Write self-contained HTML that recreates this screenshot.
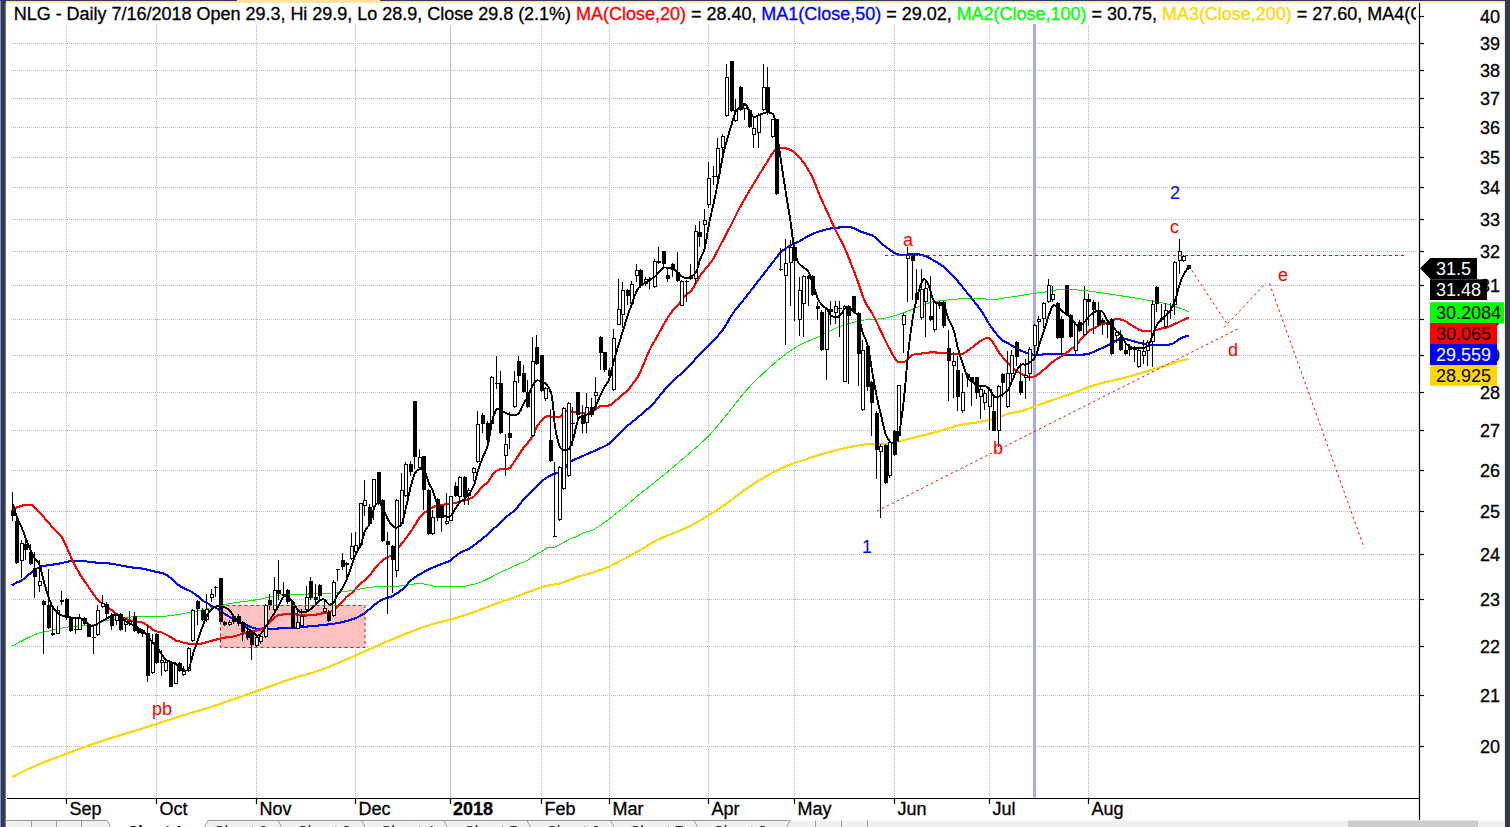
<!DOCTYPE html>
<html><head><meta charset="utf-8"><title>NLG - Daily</title><style>html,body{margin:0;padding:0;background:#fff;overflow:hidden}body{width:1510px;height:827px;position:relative;font-family:"Liberation Sans",sans-serif}</style></head><body>
<svg width="1510" height="827" viewBox="0 0 1510 827" style="position:absolute;left:0;top:0;font-family:'Liberation Sans',sans-serif">
<rect x="0" y="0" width="1510" height="827" fill="#fff"/>
<g stroke="#b8b8b8" stroke-width="1" stroke-dasharray="1,1" fill="none" shape-rendering="crispEdges">
<path d="M11 746.5H1419.5"/>
<path d="M11 695.5H1419.5"/>
<path d="M11 646.5H1419.5"/>
<path d="M11 599.5H1419.5"/>
<path d="M11 554.5H1419.5"/>
<path d="M11 511.5H1419.5"/>
<path d="M11 470.5H1419.5"/>
<path d="M11 430.5H1419.5"/>
<path d="M11 392.5H1419.5"/>
<path d="M11 355.5H1419.5"/>
<path d="M11 319.5H1419.5"/>
<path d="M11 285.5H1419.5"/>
<path d="M11 251.5H1419.5"/>
<path d="M11 219.5H1419.5"/>
<path d="M11 187.5H1419.5"/>
<path d="M11 157.5H1419.5"/>
<path d="M11 127.5H1419.5"/>
<path d="M11 98.5H1419.5"/>
<path d="M11 70.5H1419.5"/>
<path d="M11 43.5H1419.5"/>
<path d="M1415.5 16.5H1419.5M11 16.5h1"/>
<path d="M66.5 25V798.5"/>
<path d="M156.5 25V798.5"/>
<path d="M256.5 25V798.5"/>
<path d="M355.5 25V798.5"/>
<path d="M541.5 25V798.5"/>
<path d="M609.5 25V798.5"/>
<path d="M708.5 25V798.5"/>
<path d="M794.5 25V798.5"/>
<path d="M894.5 25V798.5"/>
<path d="M989.5 25V798.5"/>
<path d="M1088.5 25V798.5"/>
</g>
<path d="M450.5 25V798.5" stroke="#c0c0c0" stroke-width="1" shape-rendering="crispEdges"/>
<defs><clipPath id="pc"><rect x="7" y="22" width="1412" height="775.5"/></clipPath></defs>
<g clip-path="url(#pc)">
<rect x="220.5" y="605.5" width="144.5" height="42" fill="#ffc0c0"/>
<rect x="1033" y="24" width="3" height="775" fill="#a8a8fa"/>
<path d="M11.6 646.2C13.3 645.3 18.6 642.5 21.8 640.9C25.0 639.3 27.8 637.7 30.8 636.4C33.8 635.1 36.7 633.8 39.6 632.9C42.5 632.0 45.4 631.8 48.4 631.1C51.4 630.4 54.8 629.6 57.9 628.9C61.0 628.2 64.1 627.5 67.0 627.1C69.9 626.7 72.6 626.6 75.5 626.3C78.4 626.0 81.5 625.4 84.5 625.2C87.5 625.0 91.3 625.2 93.6 624.9C95.9 624.6 96.5 624.2 98.1 623.6C99.6 623.0 101.4 622.1 102.9 621.5C104.5 620.9 105.2 620.7 107.4 620.2C109.7 619.8 113.4 619.2 116.4 618.8C119.4 618.3 122.4 617.9 125.5 617.5C128.6 617.1 131.8 616.9 134.8 616.7C137.8 616.5 140.3 616.5 143.3 616.4C146.3 616.3 149.6 616.4 152.6 616.4C155.6 616.4 158.5 616.5 161.6 616.4C164.7 616.3 168.2 616.0 171.2 615.6C174.2 615.2 176.8 614.8 179.7 614.3C182.6 613.8 185.7 613.0 188.8 612.4C191.9 611.8 195.7 611.3 198.1 610.9C200.5 610.5 201.6 610.4 203.1 610.1C204.6 609.8 204.8 609.5 207.0 608.9C209.2 608.2 213.3 607.0 216.3 606.2C219.3 605.5 222.1 605.0 225.1 604.4C228.1 603.8 231.1 603.2 234.1 602.8C237.1 602.3 240.1 602.1 243.1 601.7C246.1 601.3 248.9 600.9 251.9 600.4C254.9 599.9 258.0 599.6 261.0 599.0C264.0 598.4 267.0 597.5 270.0 596.9C273.0 596.2 276.0 595.5 279.0 595.1C282.0 594.7 284.3 594.4 288.1 594.3C291.9 594.2 297.3 594.4 301.9 594.3C306.5 594.2 311.0 593.8 315.5 593.7C320.0 593.6 325.2 593.7 329.0 593.5C332.8 593.3 335.1 592.8 338.1 592.4C341.1 592.0 344.2 591.5 347.1 591.1C350.0 590.7 352.6 590.2 355.6 589.7C358.6 589.2 362.1 588.6 365.2 588.1C368.3 587.6 371.3 587.1 374.3 586.8C377.3 586.5 380.2 586.4 383.3 586.3C386.4 586.2 390.0 586.4 393.1 586.3C396.2 586.2 397.8 586.2 401.9 585.7C406.0 585.2 413.9 583.8 417.9 583.6C421.9 583.4 422.8 583.9 425.9 584.4C429.0 584.9 432.5 586.1 436.5 586.5C440.5 586.9 444.9 586.6 449.8 586.5C454.7 586.4 460.4 586.8 465.7 586.0C471.0 585.2 476.4 583.8 481.7 581.7C487.0 579.7 492.4 576.3 497.7 573.7C503.0 571.1 508.5 568.6 513.6 566.3C518.8 564.0 525.9 561.2 528.6 559.9C531.3 558.6 528.2 559.3 529.6 558.3C531.0 557.3 534.5 555.6 537.1 554.1C539.8 552.6 544.0 550.3 545.5 549.3C547.0 548.3 544.9 548.4 546.2 548.0C547.5 547.6 552.0 547.3 553.5 547.1C555.0 546.9 553.9 547.4 555.2 546.9C556.5 546.4 560.0 544.7 561.5 543.9C563.0 543.1 562.3 543.1 564.3 542.1C566.3 541.1 571.1 538.5 573.3 537.6C575.5 536.7 575.8 537.3 577.4 536.5C579.0 535.7 580.4 533.9 583.1 532.8C585.8 531.7 589.3 531.9 593.4 529.8C597.5 527.6 602.8 523.6 607.9 519.9C613.0 516.2 618.5 511.7 623.8 507.4C629.1 503.1 634.9 498.1 639.8 494.1C644.7 490.1 648.7 487.0 653.1 483.5C657.5 480.0 661.1 477.3 666.4 472.9C671.7 468.5 678.4 462.7 685.0 456.9C691.6 451.1 699.6 444.9 706.3 438.3C712.9 431.7 718.2 425.0 724.9 417.0C731.5 409.0 739.6 397.9 746.2 390.4C752.9 382.9 758.6 377.6 764.8 371.8C771.0 366.1 777.6 360.3 783.4 355.9C789.2 351.5 793.2 348.5 799.4 345.2C805.6 341.9 814.0 339.0 820.6 335.9C827.2 332.8 833.1 329.0 839.3 326.6C845.5 324.2 854.4 322.3 857.9 321.3C861.4 320.3 856.8 320.8 860.0 320.4C863.2 320.0 872.9 319.5 877.3 319.1C881.7 318.7 882.4 318.8 886.6 317.8C890.8 316.8 897.7 314.8 902.6 313.1C907.5 311.4 912.4 309.2 915.9 307.8C919.4 306.4 920.7 305.6 923.8 304.5C926.9 303.4 931.0 302.2 934.5 301.5C938.0 300.8 940.7 300.6 945.1 300.2C949.5 299.8 955.8 299.1 961.1 298.8C966.4 298.5 972.6 298.1 977.0 298.2C981.4 298.2 984.2 299.0 987.7 299.1C991.2 299.2 995.2 299.4 998.3 299.1C1001.4 298.9 1002.8 298.2 1006.3 297.6C1009.8 297.1 1015.2 296.5 1019.6 295.8C1024.0 295.1 1028.5 294.3 1032.9 293.6C1037.3 292.9 1041.7 292.5 1046.2 291.8C1050.7 291.1 1057.3 289.6 1060.0 289.2C1062.7 288.8 1059.7 289.2 1062.3 289.3C1064.9 289.4 1071.1 289.5 1075.6 289.8C1080.1 290.1 1084.5 290.6 1089.1 291.1C1093.7 291.6 1098.4 292.3 1103.0 293.0C1107.6 293.7 1112.0 294.4 1116.5 295.1C1121.0 295.8 1125.5 296.4 1130.1 297.2C1134.7 297.9 1139.4 298.8 1143.9 299.6C1148.4 300.4 1153.5 301.1 1157.2 301.8C1160.9 302.5 1163.3 303.1 1166.3 303.9C1169.3 304.7 1172.1 305.5 1175.1 306.5C1178.1 307.5 1181.8 308.8 1184.1 309.7C1186.3 310.6 1187.8 311.5 1188.6 311.9" fill="none" stroke="#00f000" stroke-width="1" shape-rendering="crispEdges"/>
<path d="M12.5 776.9C14.8 775.7 21.6 772.1 26.6 769.7C31.6 767.4 36.0 765.5 42.6 762.8C49.2 760.1 58.5 756.7 66.5 753.7C74.5 750.7 82.4 747.7 90.4 744.9C98.4 742.1 106.4 739.5 114.4 737.0C122.4 734.5 130.8 732.1 138.3 729.8C145.8 727.4 151.6 725.5 159.6 722.9C167.6 720.3 177.3 717.1 186.2 714.4C195.1 711.6 203.9 709.3 212.8 706.4C221.7 703.5 230.5 700.2 239.4 697.1C248.3 694.0 257.1 690.9 266.0 687.8C274.9 684.7 283.8 681.4 292.6 678.5C301.5 675.6 310.2 673.6 319.1 670.5C328.0 667.4 336.8 663.6 345.7 659.8C354.6 656.0 362.9 652.0 372.3 647.9C381.7 643.8 394.3 638.5 401.9 635.4C409.5 632.2 412.6 631.0 417.9 629.0C423.2 627.0 428.5 625.2 433.8 623.7C439.1 622.2 444.5 621.2 449.8 619.7C455.1 618.2 460.4 616.7 465.7 614.9C471.0 613.1 476.4 611.1 481.7 609.1C487.0 607.1 492.4 604.9 497.7 603.0C503.0 601.1 508.3 599.6 513.6 597.7C518.9 595.8 524.3 593.4 529.6 591.5C534.9 589.6 540.2 587.6 545.5 586.2C550.8 584.8 556.2 584.5 561.5 583.0C566.8 581.5 572.1 578.7 577.4 576.9C582.7 575.1 588.1 574.2 593.4 572.4C598.7 570.6 604.1 568.6 609.4 566.3C614.7 563.9 620.0 561.1 625.3 558.3C630.6 555.5 636.0 552.4 641.3 549.3C646.6 546.2 651.9 542.6 657.2 539.9C662.5 537.2 667.9 535.5 673.2 533.3C678.5 531.1 684.5 528.8 689.1 526.6C693.7 524.4 695.0 523.5 701.0 519.9C707.0 516.3 717.4 510.0 724.9 504.8C732.4 499.6 739.1 493.7 746.2 488.8C753.3 483.9 760.8 479.3 767.4 475.5C774.0 471.7 779.9 468.8 786.1 466.2C792.3 463.6 798.1 461.8 804.7 459.6C811.4 457.4 818.9 454.9 826.0 452.9C833.1 450.9 840.6 449.0 847.2 447.6C853.9 446.2 859.2 445.1 865.9 444.4C872.5 443.7 880.5 444.4 887.1 443.6C893.7 442.8 898.2 441.4 905.7 439.6C913.2 437.8 923.2 435.4 932.3 433.0C941.3 430.6 953.2 426.6 960.0 425.0C966.8 423.4 968.0 424.0 973.0 423.1C978.0 422.2 985.4 420.9 989.7 419.9C994.0 418.9 995.9 418.2 999.0 417.2C1002.1 416.2 1004.4 414.8 1008.1 413.8C1011.8 412.8 1016.9 412.4 1021.4 411.1C1025.9 409.9 1030.4 407.9 1034.9 406.3C1039.4 404.7 1043.9 403.1 1048.5 401.5C1053.1 399.9 1057.8 398.2 1062.3 396.7C1066.8 395.1 1071.1 393.8 1075.6 392.2C1080.1 390.6 1084.5 388.4 1089.1 386.9C1093.7 385.3 1098.4 384.1 1103.0 382.9C1107.6 381.7 1112.0 380.8 1116.5 379.7C1121.0 378.6 1125.5 377.4 1130.1 376.2C1134.7 374.9 1139.4 373.5 1143.9 372.2C1148.4 370.9 1152.7 369.6 1157.2 368.2C1161.7 366.8 1167.1 364.9 1170.8 363.7C1174.5 362.5 1176.6 361.9 1179.6 361.1C1182.6 360.3 1187.1 359.3 1188.6 358.9" fill="none" stroke="#ffd700" stroke-width="2.1" stroke-linejoin="round" shape-rendering="crispEdges"/>
<path d="M11.6 585.6C12.5 585.1 15.3 583.2 17.0 582.4C18.7 581.5 20.2 581.5 21.8 580.5C23.4 579.5 24.8 577.5 26.3 576.3C27.8 575.1 29.4 574.2 30.8 573.1C32.2 572.0 33.3 570.9 34.8 569.9C36.3 568.9 38.1 567.9 39.6 567.2C41.1 566.5 41.5 566.3 43.8 565.9C46.0 565.5 50.1 565.1 53.1 564.6C56.1 564.1 58.9 563.6 61.9 563.0C64.9 562.4 68.0 561.5 71.0 561.1C74.0 560.7 77.8 560.6 80.0 560.6C82.2 560.6 83.0 560.7 84.5 560.9C86.0 561.1 86.7 561.6 89.0 561.9C91.3 562.2 95.0 562.5 98.1 562.7C101.2 562.9 104.4 562.9 107.4 563.2C110.5 563.5 113.4 564.1 116.4 564.6C119.4 565.1 122.4 565.9 125.5 566.4C128.6 566.9 131.8 567.4 134.8 567.8C137.8 568.2 140.3 568.3 143.3 568.8C146.3 569.3 149.6 570.3 152.6 571.0C155.6 571.7 159.4 572.5 161.6 573.1C163.8 573.7 164.0 573.5 165.6 574.4C167.2 575.3 169.5 577.1 171.2 578.4C172.8 579.7 174.1 581.1 175.5 582.4C176.9 583.6 178.2 584.9 179.7 585.9C181.2 586.9 182.8 587.8 184.3 588.5C185.8 589.2 187.3 589.6 188.8 590.4C190.3 591.1 191.8 592.0 193.3 593.0C194.9 594.0 196.5 595.2 198.1 596.5C199.7 597.8 201.6 600.0 203.1 601.0C204.6 602.0 205.6 601.9 207.0 602.8C208.4 603.7 210.2 605.3 211.8 606.2C213.4 607.1 214.8 607.2 216.3 608.1C217.9 609.0 219.6 610.5 221.1 611.5C222.6 612.5 223.7 613.3 225.1 614.2C226.5 615.1 228.1 616.0 229.6 616.9C231.1 617.8 232.6 618.7 234.1 619.5C235.6 620.3 237.1 620.9 238.6 621.6C240.1 622.3 241.6 622.9 243.1 623.5C244.6 624.1 246.2 624.7 247.7 625.4C249.2 626.1 250.3 626.9 251.9 627.5C253.5 628.1 254.7 628.6 257.0 628.8C259.4 629.0 263.1 628.8 266.0 628.8C268.9 628.8 271.6 628.9 274.5 628.8C277.4 628.7 280.5 628.1 283.6 628.0C286.7 627.9 289.8 628.2 292.9 628.0C295.9 627.8 298.9 627.3 301.9 627.0C304.9 626.7 308.0 626.5 311.0 626.2C314.0 625.9 317.0 625.7 320.0 625.4C323.0 625.1 326.0 624.7 329.0 624.3C332.0 623.9 335.1 623.6 338.1 623.0C341.1 622.4 344.2 621.7 347.1 620.9C350.0 620.1 353.3 619.1 355.6 618.2C357.9 617.3 359.1 616.4 360.7 615.5C362.3 614.6 363.7 614.0 365.2 612.9C366.7 611.8 368.2 610.2 369.7 608.9C371.2 607.6 372.8 606.1 374.3 604.9C375.8 603.7 377.3 602.7 378.8 601.7C380.3 600.7 381.8 599.7 383.3 599.0C384.9 598.3 386.5 598.3 388.1 597.7C389.7 597.1 390.8 596.9 393.1 595.6C395.4 594.3 398.6 592.5 401.9 589.7C405.1 586.9 409.1 581.9 412.6 579.0C416.2 576.1 419.7 574.4 423.2 572.4C426.7 570.4 429.4 569.0 433.8 567.1C438.2 565.2 446.9 562.2 449.8 561.0C452.7 559.8 449.3 561.3 451.0 559.9C452.7 558.5 457.0 554.6 460.0 552.8C463.0 550.9 466.0 550.6 469.0 548.8C472.0 547.0 475.0 544.5 478.1 542.1C481.2 539.7 484.8 536.8 487.9 534.1C490.9 531.5 493.3 529.1 496.4 526.2C499.5 523.3 503.2 519.6 506.3 516.9C509.4 514.2 511.9 513.1 514.8 510.2C517.7 507.3 520.6 502.9 523.6 499.6C526.6 496.3 529.9 493.4 532.9 490.3C535.9 487.2 538.8 483.5 541.9 481.0C545.0 478.5 548.2 476.6 551.2 475.1C554.2 473.6 557.5 473.2 559.7 472.2C561.9 471.2 562.5 470.8 564.3 469.0C566.1 467.2 566.9 464.1 570.6 461.7C574.3 459.2 580.2 457.3 586.6 454.3C593.0 451.3 603.0 447.8 609.2 443.6C615.4 439.4 618.7 433.6 623.8 429.0C628.9 424.4 634.9 419.9 639.8 415.7C644.7 411.5 648.7 408.3 653.1 403.7C657.5 399.1 661.1 393.5 666.4 387.8C671.7 382.1 678.4 376.4 685.0 369.7C691.6 363.0 700.1 354.4 706.3 347.9C712.5 341.4 717.8 336.4 722.2 330.6C726.6 324.8 729.4 318.4 732.9 313.3C736.4 308.2 736.5 308.9 743.5 300.0C750.5 291.1 768.3 267.9 774.6 259.9C780.9 251.9 778.6 254.3 781.2 251.9C783.9 249.5 787.4 247.0 790.5 245.2C793.6 243.4 796.6 242.8 799.6 241.2C802.6 239.6 805.6 237.4 808.6 235.9C811.6 234.4 814.6 233.0 817.7 231.9C820.8 230.8 824.0 230.0 827.0 229.3C830.0 228.6 833.1 228.0 836.0 227.7C838.9 227.4 841.7 227.4 844.5 227.4C847.3 227.4 850.2 227.0 852.8 227.7C855.4 228.3 856.6 229.9 860.0 231.3C863.4 232.7 869.8 234.0 873.3 236.0C876.8 238.0 878.2 240.8 881.3 243.3C884.4 245.9 889.0 249.4 891.9 251.3C894.8 253.2 895.5 254.1 898.6 254.6C901.7 255.1 906.7 254.5 910.5 254.5C914.3 254.5 918.1 254.1 921.2 254.7C924.3 255.3 925.6 256.0 929.1 257.9C932.6 259.8 938.4 262.9 942.4 265.9C946.4 268.9 949.5 272.1 953.1 275.9C956.7 279.7 960.2 284.2 963.7 288.5C967.2 292.8 971.3 297.8 974.4 301.8C977.5 305.8 979.6 308.4 982.3 312.4C984.9 316.4 987.2 321.3 990.3 325.7C993.4 330.1 998.0 336.1 1001.0 339.0C1004.0 341.9 1005.5 341.7 1008.1 343.3C1010.8 344.9 1014.0 347.1 1016.9 348.6C1019.8 350.2 1022.6 351.6 1025.6 352.6C1028.6 353.7 1031.9 354.6 1034.9 354.9C1038.0 355.2 1040.9 354.6 1043.9 354.4C1046.9 354.2 1049.9 353.6 1053.0 353.6C1056.1 353.6 1059.3 354.2 1062.3 354.4C1065.3 354.6 1068.1 354.8 1071.1 354.9C1074.1 355.0 1077.1 355.1 1080.1 354.9C1083.1 354.7 1086.0 354.5 1089.1 353.6C1092.2 352.7 1095.4 350.9 1098.5 349.6C1101.6 348.3 1104.5 347.2 1107.5 345.6C1110.5 344.1 1114.2 341.4 1116.5 340.3C1118.8 339.2 1119.6 339.2 1121.1 339.0C1122.6 338.8 1123.3 338.6 1125.6 339.0C1127.8 339.4 1131.5 340.8 1134.6 341.6C1137.6 342.4 1140.9 343.3 1143.9 343.8C1146.9 344.3 1149.7 344.6 1152.7 344.8C1155.7 345.0 1158.8 345.2 1161.8 345.1C1164.8 345.0 1168.6 344.8 1170.8 344.3C1173.0 343.8 1173.6 343.1 1175.1 342.2C1176.6 341.3 1178.1 339.9 1179.6 339.0C1181.1 338.1 1182.6 337.5 1184.1 336.9C1185.6 336.3 1187.8 335.7 1188.6 335.5" fill="none" stroke="#0000ff" stroke-width="2.1" stroke-linejoin="round" shape-rendering="crispEdges"/>
<path d="M11.6 511.4C12.5 510.7 15.0 508.4 17.0 507.4C19.0 506.4 21.3 505.8 23.6 505.3C25.9 504.9 28.9 504.3 30.8 504.7C32.7 505.1 33.3 506.6 34.8 507.9C36.3 509.2 37.3 509.9 39.6 512.4C41.9 514.9 45.4 519.1 48.4 522.6C51.4 526.1 55.6 530.8 57.9 533.2C60.1 535.6 60.4 534.8 61.9 537.2C63.4 539.6 65.5 544.5 67.0 547.8C68.5 551.1 69.6 554.0 71.0 557.1C72.4 560.2 74.0 563.5 75.5 566.4C77.0 569.3 78.5 571.9 80.0 574.4C81.5 576.9 83.0 578.9 84.5 581.1C86.0 583.3 87.5 585.5 89.0 587.7C90.5 589.9 92.1 592.3 93.6 594.4C95.1 596.5 96.5 598.7 98.1 600.2C99.6 601.8 101.4 602.6 102.9 603.7C104.5 604.9 105.9 606.0 107.4 607.1C108.9 608.2 110.4 609.2 111.9 610.3C113.4 611.4 114.9 612.8 116.4 613.8C117.9 614.8 119.5 615.6 121.0 616.4C122.5 617.2 124.0 618.1 125.5 618.8C127.0 619.5 128.4 619.9 130.0 620.4C131.6 620.9 133.3 621.5 134.8 621.8C136.3 622.1 137.4 622.1 138.8 622.3C140.2 622.5 141.8 622.2 143.3 622.8C144.8 623.4 146.2 624.6 147.8 625.7C149.4 626.8 151.1 628.5 152.6 629.5C154.1 630.5 155.6 631.1 157.1 631.6C158.6 632.1 160.2 632.0 161.6 632.4C163.0 632.8 164.0 633.5 165.6 634.3C167.2 635.1 169.5 636.4 171.2 637.4C172.8 638.4 174.1 639.7 175.5 640.4C176.9 641.1 178.2 641.0 179.7 641.4C181.2 641.8 182.8 642.6 184.3 643.0C185.8 643.4 187.3 643.5 188.8 643.6C190.3 643.7 191.8 643.6 193.3 643.6C194.9 643.6 196.5 643.8 198.1 643.8C199.7 643.8 201.6 643.6 203.1 643.3C204.6 643.0 204.8 642.7 207.0 642.1C209.2 641.5 213.3 640.2 216.3 639.5C219.3 638.8 222.1 638.1 225.1 637.6C228.1 637.1 231.1 637.0 234.1 636.3C237.1 635.6 240.1 634.4 243.1 633.6C246.1 632.8 248.9 632.2 251.9 631.5C254.9 630.8 258.6 630.3 261.0 629.4C263.4 628.5 264.5 627.4 266.0 626.2C267.5 625.0 268.6 623.6 270.0 622.2C271.4 620.8 273.0 618.9 274.5 617.7C276.0 616.5 276.7 615.6 279.0 615.0C281.3 614.4 285.8 614.3 288.1 614.2C290.4 614.1 291.3 614.1 292.9 614.2C294.5 614.3 296.4 614.5 297.9 614.7C299.4 614.9 300.4 615.4 301.9 615.5C303.4 615.6 304.4 615.6 306.7 615.5C309.0 615.4 312.5 615.1 315.5 614.7C318.5 614.3 322.2 613.3 324.5 612.9C326.8 612.5 327.5 612.8 329.0 612.3C330.5 611.8 332.1 611.2 333.6 610.2C335.1 609.2 336.6 607.8 338.1 606.2C339.7 604.7 341.4 602.5 342.9 600.9C344.4 599.3 345.6 597.7 347.1 596.4C348.6 595.1 350.5 594.1 351.9 592.9C353.3 591.6 354.1 590.4 355.6 588.9C357.1 587.4 359.1 585.1 360.7 583.6C362.3 582.1 363.7 580.9 365.2 579.6C366.7 578.3 368.2 577.4 369.7 575.6C371.2 573.8 372.8 571.0 374.3 569.0C375.8 567.0 377.3 565.2 378.8 563.7C380.3 562.2 381.8 560.8 383.3 559.7C384.9 558.6 386.5 557.9 388.1 557.0C389.7 556.1 391.6 555.5 393.1 554.4C394.6 553.2 395.6 551.9 397.0 550.1C398.4 548.3 399.5 546.6 401.8 543.5C404.1 540.4 407.8 535.8 410.8 531.5C413.8 527.2 417.4 520.8 419.6 517.7C421.8 514.6 422.5 514.2 424.1 512.9C425.7 511.6 427.6 510.7 429.1 509.7C430.6 508.7 431.7 507.7 433.1 507.0C434.5 506.3 435.4 506.2 437.7 505.7C440.0 505.2 443.6 504.6 446.7 504.1C449.8 503.6 453.0 503.4 456.0 502.8C459.0 502.2 462.3 501.0 464.5 500.4C466.7 499.8 467.4 499.7 469.0 499.0C470.6 498.3 472.6 497.6 474.1 496.4C475.6 495.2 476.6 493.4 478.1 491.6C479.6 489.8 481.3 487.2 482.9 485.7C484.5 484.1 486.4 484.0 487.9 482.3C489.4 480.6 490.5 477.5 491.9 475.6C493.3 473.7 494.9 472.0 496.4 470.9C497.9 469.8 499.4 469.4 501.0 469.0C502.6 468.6 504.8 468.9 506.3 468.7C507.8 468.5 508.6 469.0 510.0 467.7C511.4 466.4 513.3 463.2 514.8 461.0C516.3 458.8 517.5 456.6 519.0 454.4C520.5 452.2 522.1 449.7 523.6 447.7C525.1 445.7 526.6 444.4 528.1 442.4C529.6 440.4 531.4 438.4 532.9 435.7C534.4 433.0 535.6 429.0 537.1 426.4C538.6 423.8 540.4 421.9 541.9 420.3C543.4 418.7 544.7 417.2 546.2 416.6C547.8 416.0 549.0 416.5 551.2 416.6C553.5 416.7 557.5 417.9 559.7 417.1C561.9 416.3 562.8 412.8 564.3 411.8C565.8 410.8 566.5 411.2 568.8 411.3C571.1 411.4 575.7 412.0 578.1 412.3C580.5 412.6 580.8 413.2 583.1 413.1C585.4 413.0 589.6 412.1 591.8 411.4C594.0 410.7 594.8 409.7 596.3 408.8C597.8 407.9 598.6 406.7 600.8 406.1C603.0 405.5 607.4 406.0 609.6 405.3C611.8 404.6 611.9 404.0 614.1 402.1C616.4 400.2 620.8 396.0 623.1 394.1C625.4 392.2 626.2 392.2 627.7 390.7C629.2 389.1 630.4 386.9 631.9 384.8C633.4 382.7 635.5 380.6 637.0 378.2C638.5 375.8 639.6 373.3 641.0 370.2C642.4 367.1 644.0 363.2 645.5 359.6C647.0 356.1 648.5 352.0 650.0 348.9C651.5 345.8 653.0 343.6 654.5 341.0C656.0 338.4 657.5 335.8 659.0 333.0C660.5 330.2 662.1 327.2 663.6 324.5C665.1 321.8 666.6 319.4 668.1 317.0C669.6 314.6 671.3 312.4 672.9 310.4C674.5 308.4 676.4 306.9 677.9 305.1C679.4 303.3 680.5 301.5 681.9 299.7C683.3 297.9 684.9 295.8 686.4 294.4C687.9 292.9 689.4 293.0 691.0 291.0C692.6 289.0 694.8 284.9 696.3 282.4C697.8 279.9 698.6 277.9 700.0 275.8C701.4 273.7 702.7 272.4 704.8 269.7C706.9 267.0 710.4 263.2 712.6 259.9C714.8 256.6 716.2 253.3 717.9 250.1C719.6 246.9 720.4 245.2 722.7 240.8C725.0 236.4 728.8 229.3 731.8 223.5C734.8 217.7 737.5 211.7 740.5 206.2C743.5 200.7 746.8 195.4 749.8 190.3C752.8 185.2 755.6 180.5 758.6 175.6C761.6 170.7 765.4 164.8 767.7 161.0C770.1 157.2 771.2 155.1 772.7 153.0C774.2 150.9 775.3 149.4 776.7 148.5C778.1 147.6 778.9 147.5 781.2 147.7C783.5 147.9 788.0 148.7 790.5 149.8C793.0 150.9 794.1 152.1 796.4 154.4C798.7 156.7 801.8 159.9 804.4 163.7C807.0 167.5 809.6 171.5 812.3 177.0C814.9 182.5 817.6 190.7 820.3 196.9C823.0 203.1 825.6 208.4 828.3 214.2C831.0 220.0 833.6 226.0 836.3 231.5C839.0 237.0 842.1 242.7 844.3 247.4C846.5 252.1 847.3 254.1 849.6 259.9C851.9 265.7 855.6 275.5 858.1 282.4C860.6 289.3 862.4 296.0 864.7 301.1C867.0 306.2 869.9 309.5 871.9 313.0C873.9 316.5 874.4 317.6 876.7 322.3C879.0 327.0 882.5 335.0 885.5 341.0C888.5 347.0 892.7 354.8 894.8 358.2C896.9 361.6 896.5 361.0 898.0 361.7C899.5 362.4 901.9 362.6 903.6 362.2C905.3 361.8 906.6 360.2 908.1 359.0C909.6 357.8 910.6 355.7 912.9 354.8C915.1 353.9 918.6 353.9 921.6 353.5C924.6 353.1 927.7 352.5 930.7 352.4C933.7 352.3 936.7 352.5 939.7 352.7C942.7 352.9 945.7 353.2 948.8 353.5C951.9 353.8 955.7 354.3 958.1 354.3C960.5 354.3 960.8 354.9 963.1 353.7C965.5 352.5 969.2 349.5 972.2 347.3C975.2 345.1 978.6 342.2 981.0 340.6C983.4 339.1 984.8 338.4 986.3 338.0C987.8 337.6 988.4 337.4 989.7 338.5C991.0 339.6 992.8 342.2 994.3 344.6C995.8 347.0 997.5 350.4 999.0 352.6C1000.5 354.8 1001.8 356.1 1003.3 357.9C1004.8 359.7 1006.6 361.6 1008.1 363.2C1009.6 364.8 1010.8 365.9 1012.3 367.2C1013.8 368.5 1015.4 370.1 1016.9 371.2C1018.4 372.3 1020.0 373.1 1021.4 373.9C1022.8 374.6 1024.1 375.2 1025.6 375.7C1027.1 376.2 1028.7 377.0 1030.2 377.1C1031.8 377.2 1033.4 376.8 1034.9 376.2C1036.4 375.6 1037.6 374.7 1039.1 373.6C1040.6 372.5 1042.3 371.0 1043.9 369.6C1045.5 368.2 1047.0 366.4 1048.5 365.1C1050.0 363.8 1051.5 362.7 1053.0 361.6C1054.5 360.5 1056.2 359.4 1057.8 358.4C1059.3 357.4 1060.8 356.7 1062.3 355.7C1063.8 354.7 1065.6 353.4 1067.1 352.3C1068.6 351.2 1069.7 350.2 1071.1 349.1C1072.5 348.0 1074.1 347.1 1075.6 345.6C1077.1 344.1 1078.5 342.1 1080.1 340.3C1081.6 338.5 1083.4 336.6 1084.9 335.0C1086.4 333.4 1087.6 332.1 1089.1 331.0C1090.6 329.9 1092.3 329.3 1093.9 328.4C1095.5 327.5 1097.0 326.5 1098.5 325.7C1100.0 324.9 1101.5 324.2 1103.0 323.8C1104.5 323.4 1106.0 323.6 1107.5 323.0C1109.0 322.4 1110.5 321.1 1112.0 320.4C1113.5 319.7 1115.0 319.1 1116.5 319.0C1118.0 318.9 1119.6 319.2 1121.1 319.6C1122.6 320.0 1124.1 320.4 1125.6 321.2C1127.1 322.0 1128.6 323.4 1130.1 324.4C1131.6 325.4 1133.1 326.1 1134.6 327.0C1136.1 327.9 1137.5 329.0 1139.1 329.7C1140.6 330.4 1142.4 330.8 1143.9 331.0C1145.4 331.2 1146.7 331.0 1148.2 331.0C1149.7 331.0 1151.2 331.2 1152.7 331.0C1154.2 330.8 1155.7 330.1 1157.2 329.7C1158.7 329.3 1160.3 328.8 1161.8 328.4C1163.3 328.0 1164.8 328.1 1166.3 327.6C1167.8 327.2 1169.3 326.3 1170.8 325.7C1172.3 325.1 1173.6 324.5 1175.1 323.8C1176.6 323.1 1178.1 322.4 1179.6 321.7C1181.1 321.0 1182.6 320.3 1184.1 319.6C1185.6 318.9 1187.8 318.0 1188.6 317.7" fill="none" stroke="#ff0000" stroke-width="2.1" stroke-linejoin="round" shape-rendering="crispEdges"/>
<path d="M12.5 492.0V521.2M16.5 517.2V563.8M21.5 539.8V578.4M25.5 539.8V559.8M30.5 543.8V565.1M34.5 551.8V598.4M39.5 559.8V591.7M43.5 599.7V654.2M48.5 569.1V628.9M52.5 605.0V635.6M57.5 606.3V634.3M61.5 591.2V604.5M66.5 598.4V619.6M70.5 615.6V632.1M75.5 618.3V634.3M79.5 614.3V630.3M84.5 617.0V624.9M88.5 623.6V637.4M93.5 624.9V654.2M97.5 605.0V635.6M102.5 595.2V608.2M106.5 602.3V619.6M111.5 613.0V629.5M116.5 613.0V624.9M120.5 613.0V630.5M125.5 618.3V631.6M129.5 610.9V626.3M134.5 611.6V631.6M138.5 627.6V634.3M142.5 628.9V636.9M147.5 624.9V682.1M152.5 634.3V674.1M156.5 632.9V663.5M161.5 650.2V675.5M165.5 660.9V671.5M170.5 660.9V687.4M175.5 663.0V684.3M179.5 661.6V672.0M183.5 666.2V675.5M188.5 647.0V671.5M192.5 609.0V641.7M197.5 599.7V624.9M202.5 607.7V621.0M206.5 593.7V622.2M211.5 588.9V602.2M215.5 586.3V596.9M220.5 577.8V623.5M224.5 620.9V625.6M229.5 619.5V626.2M233.5 614.2V623.5M238.5 614.2V626.2M242.5 620.9V640.8M247.5 626.2V639.5M251.5 631.5V659.9M256.5 635.5V647.4M260.5 632.8V643.5M265.5 603.6V638.1M269.5 594.3V610.2M274.5 577.0V612.9M278.5 560.2V599.6M283.5 582.3V596.9M287.5 588.9V603.6M292.5 600.9V628.8M297.5 610.2V629.4M301.5 608.9V627.5M306.5 585.7V611.5M310.5 577.0V599.6M315.5 583.6V606.2M319.5 583.6V602.2M324.5 599.6V612.9M328.5 610.2V622.2M333.5 580.2V616.9M337.5 568.5V581.0M342.5 553.0V570.3M346.5 562.3V578.3M351.5 533.1V559.7M355.5 531.8V557.0M360.5 502.5V546.4M364.5 479.9V515.8M369.5 503.8V525.1M373.5 478.6V519.8M378.5 471.9V505.2M382.5 499.0V542.4M387.5 531.8V614.2M392.5 545.1V592.9M396.5 499.0V577.2M401.5 473.0V524.8M405.5 461.8V496.9M410.5 461.0V475.6M414.5 400.6V469.0M419.5 449.0V469.0M423.5 455.7V510.2M428.5 488.9V534.7M432.5 510.2V534.7M437.5 498.2V520.9M441.5 504.9V531.5M446.5 492.9V524.8M450.5 495.6V521.4M455.5 482.3V496.9M459.5 475.6V502.2M464.5 475.6V504.9M468.5 487.6V504.9M473.5 467.1V481.0M477.5 410.5V462.9M482.5 413.1V433.1M487.5 421.1V447.7M491.5 375.9V425.1M496.5 356.0V389.2M500.5 370.6V433.6M505.5 434.4V475.6M509.5 411.8V449.0M514.5 370.6V407.8M518.5 356.0V382.6M523.5 365.3V393.2M527.5 379.9V407.8M532.5 336.8V437.1M536.5 334.7V365.3M541.5 354.6V391.9M545.5 386.5V401.2M550.5 409.1V462.3M554.5 462.3V536.8M559.5 466.3V520.9M563.5 406.5V489.5M568.5 401.7V477.0M572.5 406.5V446.4M577.5 391.9V419.8M582.5 405.2V433.1M586.5 392.8V433.0M591.5 398.1V416.8M595.5 376.9V410.1M600.5 336.4V370.2M604.5 351.6V371.5M609.5 367.6V376.9M613.5 329.0V391.0M618.5 278.5V325.0M622.5 281.9V327.7M627.5 289.1V305.1M631.5 281.1V305.1M636.5 263.8V282.4M640.5 268.6V287.8M645.5 277.1V286.4M649.5 277.1V289.1M654.5 258.5V287.8M658.5 247.3V263.8M663.5 250.5V266.5M667.5 267.8V282.4M672.5 263.0V277.1M677.5 251.9V281.9M681.5 279.8V306.4M686.5 279.8V302.4M690.5 263.8V279.8M695.5 225.3V283.8M699.5 221.3V246.5M704.5 209.3V247.9M708.5 162.3V207.6M713.5 166.3V184.9M717.5 138.4V183.6M722.5 134.4V155.7M726.5 63.9V117.1M731.5 60.7V111.8M735.5 99.0V121.9M740.5 85.7V110.5M744.5 102.5V119.8M749.5 108.6V127.8M753.5 117.1V147.7M758.5 113.1V147.7M763.5 63.9V110.5M767.5 66.6V114.5M772.5 118.5V137.9M776.5 118.5V194.8M780.5 247.9V270.5M785.5 238.6V344.9M790.5 239.9V306.4M794.5 245.2V321.0M799.5 277.1V335.6M803.5 274.5V337.0M808.5 274.5V306.4M812.5 275.0V295.7M817.5 302.4V319.7M821.5 310.4V351.1M826.5 307.7V379.5M830.5 301.1V325.0M835.5 301.1V323.7M839.5 301.1V337.0M844.5 305.1V382.2M848.5 305.1V383.5M853.5 295.7V313.0M858.5 311.7V386.2M862.5 339.6V411.4M867.5 344.6V391.2M871.5 380.5V436.4M876.5 411.1V478.9M880.5 444.4V517.5M885.5 443.8V483.7M889.5 440.4V477.6M894.5 429.7V456.3M898.5 384.5V441.7M903.5 313.0V352.9M907.5 246.5V302.4M912.5 253.2V299.7M916.5 269.1V301.1M921.5 268.6V319.7M925.5 279.8V337.0M930.5 275.8V321.0M934.5 301.1V331.6M939.5 301.1V309.0M943.5 301.1V327.7M948.5 330.3V400.8M953.5 351.6V398.1M957.5 355.6V411.4M962.5 372.9V412.8M967.5 372.6V387.2M971.5 376.5V405.8M976.5 376.5V399.1M980.5 387.2V419.1M984.5 389.8V409.8M989.5 387.2V429.7M993.5 395.2V431.1M998.5 384.5V447.0M1002.5 372.6V396.5M1007.5 351.3V407.7M1011.5 349.9V383.2M1016.5 340.6V365.9M1020.5 363.2V395.2M1025.5 359.3V399.1M1029.5 347.3V380.5M1034.5 324.4V355.7M1038.5 316.4V348.3M1043.5 301.8V328.4M1048.5 278.6V302.6M1052.5 285.8V301.8M1057.5 301.8V339.0M1061.5 316.4V354.9M1066.5 284.5V316.4M1070.5 313.7V338.2M1075.5 321.7V354.9M1079.5 320.4V332.3M1084.5 285.8V335.0M1088.5 293.8V325.7M1093.5 300.4V333.7M1098.5 301.8V325.7M1102.5 317.7V335.0M1107.5 321.7V337.7M1111.5 317.7V354.9M1116.5 331.0V343.0M1120.5 329.7V351.0M1125.5 343.0V354.9M1129.5 344.3V356.3M1134.5 345.6V361.6M1138.5 348.3V368.2M1143.5 340.3V364.3M1147.5 340.3V365.6M1152.5 300.4V366.9M1156.5 285.8V312.4M1161.5 304.4V321.7M1165.5 303.1V327.6M1170.5 303.1V319.0M1174.5 260.5V315.1M1179.5 239.3V273.8M1183.5 255.2V261.9M1188.5 264.5V269.8" stroke="#000" stroke-width="1" fill="none" shape-rendering="crispEdges"/>
<path d="M10.5 510.6h4v5.3h-4zM14.5 521.2h4v41.8h-4zM23.5 543.8h4v5.9h-4zM28.5 551.8h4v12.0h-4zM32.5 567.8h4v9.3h-4zM41.5 601.0h4v4.0h-4zM46.5 605.0h4v22.6h-4zM64.5 598.9h4v19.4h-4zM68.5 617.0h4v14.1h-4zM73.5 628.9h4v1.4h-4zM82.5 618.3h4v5.3h-4zM86.5 624.9h4v12.0h-4zM91.5 636.9h4v1.2h-4zM104.5 603.7h4v10.6h-4zM109.5 615.6h4v10.7h-4zM118.5 614.3h4v15.2h-4zM132.5 616.2h4v14.6h-4zM136.5 628.9h4v4.0h-4zM140.5 630.3h4v4.0h-4zM145.5 632.9h4v42.6h-4zM154.5 633.5h4v29.5h-4zM168.5 662.2h4v24.7h-4zM177.5 663.0h4v8.0h-4zM195.5 601.0h4v8.0h-4zM200.5 610.3h4v9.3h-4zM213.5 587.1h4v1.3h-4zM218.5 578.3h4v43.9h-4zM222.5 622.2h4v2.6h-4zM231.5 615.5h4v6.7h-4zM236.5 615.5h4v8.0h-4zM240.5 622.2h4v9.3h-4zM245.5 631.0h4v7.1h-4zM249.5 632.8h4v12.0h-4zM267.5 600.4h4v4.5h-4zM276.5 589.7h4v4.6h-4zM281.5 594.3h4v1.3h-4zM285.5 589.7h4v12.5h-4zM290.5 602.2h4v25.3h-4zM308.5 581.0h4v17.2h-4zM313.5 596.9h4v2.7h-4zM317.5 584.9h4v10.7h-4zM326.5 611.5h4v9.4h-4zM335.5 568.5h4v1.2h-4zM340.5 559.7h4v7.4h-4zM344.5 562.9h4v1.6h-4zM367.5 506.5h4v17.3h-4zM376.5 472.4h4v31.4h-4zM380.5 499.8h4v41.3h-4zM385.5 541.1h4v4.0h-4zM390.5 545.6h4v14.1h-4zM408.5 463.7h4v8.5h-4zM412.5 401.2h4v55.3h-4zM421.5 456.2h4v33.3h-4zM426.5 489.5h4v44.6h-4zM435.5 498.8h4v18.9h-4zM439.5 506.2h4v12.0h-4zM453.5 485.7h4v10.7h-4zM462.5 477.0h4v19.9h-4zM480.5 414.5h4v9.3h-4zM485.5 423.0h4v16.7h-4zM494.5 382.6h4v1.3h-4zM498.5 383.4h4v49.7h-4zM507.5 433.1h4v5.3h-4zM516.5 361.3h4v14.6h-4zM521.5 373.2h4v18.7h-4zM525.5 391.9h4v14.6h-4zM534.5 346.6h4v17.3h-4zM539.5 355.4h4v35.1h-4zM548.5 439.7h4v21.3h-4zM552.5 535.5h4v1.3h-4zM570.5 423.0h4v1.2h-4zM575.5 392.4h4v22.1h-4zM580.5 414.5h4v9.3h-4zM589.5 407.4h4v8.0h-4zM598.5 337.0h4v15.9h-4zM602.5 352.1h4v18.1h-4zM607.5 370.2h4v5.3h-4zM625.5 290.4h4v5.9h-4zM638.5 269.7h4v16.7h-4zM647.5 278.5h4v1.3h-4zM661.5 251.3h4v12.5h-4zM665.5 275.3h4v3.7h-4zM670.5 263.8h4v5.9h-4zM675.5 271.8h4v9.3h-4zM684.5 281.1h4v1.3h-4zM688.5 275.8h4v2.7h-4zM697.5 231.9h4v5.3h-4zM711.5 175.6h4v1.4h-4zM729.5 61.3h4v49.7h-4zM738.5 86.5h4v23.2h-4zM747.5 109.7h4v17.5h-4zM765.5 86.5h4v26.6h-4zM774.5 119.3h4v75.0h-4zM778.5 268.6h4v1.2h-4zM792.5 246.5h4v14.7h-4zM806.5 275.8h4v2.7h-4zM810.5 275.8h4v19.4h-4zM815.5 305.9h4v3.1h-4zM819.5 311.7h4v38.6h-4zM828.5 309.0h4v2.7h-4zM837.5 307.7h4v1.3h-4zM846.5 306.4h4v9.3h-4zM851.5 296.3h4v15.4h-4zM856.5 313.0h4v40.7h-4zM865.5 346.0h4v41.2h-4zM869.5 381.9h4v21.2h-4zM874.5 413.0h4v36.7h-4zM883.5 444.9h4v38.0h-4zM892.5 431.1h4v23.9h-4zM910.5 254.5h4v6.7h-4zM914.5 292.6h4v7.1h-4zM928.5 316.2h4v3.5h-4zM937.5 302.4h4v4.0h-4zM941.5 302.4h4v23.9h-4zM946.5 348.4h4v12.5h-4zM955.5 370.2h4v26.6h-4zM965.5 373.9h4v4.0h-4zM969.5 377.3h4v4.6h-4zM974.5 377.3h4v15.2h-4zM991.5 411.1h4v19.4h-4zM1000.5 373.9h4v8.8h-4zM1014.5 342.0h4v14.6h-4zM1018.5 381.1h4v11.4h-4zM1055.5 302.6h4v35.6h-4zM1059.5 319.0h4v19.2h-4zM1064.5 285.0h4v30.1h-4zM1068.5 315.1h4v22.0h-4zM1077.5 321.7h4v9.3h-4zM1086.5 299.1h4v2.7h-4zM1091.5 301.8h4v7.9h-4zM1096.5 309.7h4v15.2h-4zM1100.5 319.6h4v3.4h-4zM1105.5 323.0h4v1.9h-4zM1109.5 319.0h4v34.6h-4zM1118.5 337.1h4v12.5h-4zM1123.5 349.6h4v4.0h-4zM1127.5 345.6h4v4.0h-4zM1132.5 347.0h4v2.6h-4zM1154.5 287.1h4v16.5h-4zM1159.5 317.7h4v2.7h-4zM1168.5 309.7h4v1.4h-4zM1186.5 265.3h4v3.7h-4z" fill="#000" shape-rendering="crispEdges"/>
<path d="M20.0 543.8h3v16.8h-3zM38.0 581.6h3v4.3h-3zM51.0 633.4h3v1.2h-3zM56.0 610.8h3v22.2h-3zM60.0 600.2h3v1.1h-3zM78.0 618.8h3v10.2h-3zM96.0 610.0h3v24.6h-3zM101.0 603.4h3v3.2h-3zM115.0 614.8h3v5.7h-3zM124.0 621.5h3v2.9h-3zM128.0 621.5h3v1.6h-3zM151.0 642.7h3v29.6h-3zM160.0 660.0h3v2.5h-3zM164.0 662.7h3v7.8h-3zM174.0 664.0h3v19.0h-3zM182.0 671.5h3v2.9h-3zM187.0 648.1h3v22.4h-3zM191.0 610.0h3v30.4h-3zM205.0 609.4h3v10.4h-3zM210.0 594.2h3v3.5h-3zM228.0 622.1h3v2.2h-3zM255.0 637.3h3v8.3h-3zM259.0 636.8h3v4.8h-3zM264.0 605.4h3v31.4h-3zM273.0 590.2h3v19.5h-3zM296.0 622.1h3v6.2h-3zM300.0 616.0h3v9.7h-3zM305.0 597.4h3v12.3h-3zM323.0 608.9h3v2.1h-3zM332.0 582.0h3v33.0h-3zM350.0 546.1h3v12.3h-3zM354.0 545.6h3v5.6h-3zM359.0 503.8h3v40.8h-3zM363.0 500.3h3v5.2h-3zM372.0 479.9h3v26.1h-3zM395.0 500.1h3v70.8h-3zM400.0 490.0h3v33.5h-3zM404.0 464.2h3v30.9h-3zM418.0 457.5h3v9.7h-3zM431.0 517.9h3v15.7h-3zM445.0 521.4h3v2.1h-3zM449.0 496.9h3v23.5h-3zM458.0 477.5h3v18.9h-3zM467.0 490.0h3v5.9h-3zM472.0 468.2h3v4.3h-3zM476.0 424.3h3v37.5h-3zM490.0 377.2h3v46.1h-3zM504.0 444.2h3v11.5h-3zM513.0 381.7h3v24.8h-3zM531.0 361.8h3v73.4h-3zM544.0 388.4h3v9.6h-3zM558.0 467.4h3v52.4h-3zM562.0 408.3h3v80.1h-3zM567.0 403.8h3v71.9h-3zM585.0 407.7h3v14.9h-3zM594.0 392.8h3v2.2h-3zM612.0 338.0h3v51.7h-3zM617.0 309.5h3v14.5h-3zM621.0 290.9h3v23.5h-3zM630.0 284.3h3v18.9h-3zM635.0 270.2h3v5.1h-3zM644.0 279.0h3v4.3h-3zM653.0 261.1h3v25.6h-3zM657.0 261.1h3v1.7h-3zM680.0 281.6h3v23.8h-3zM694.0 231.1h3v46.9h-3zM703.0 220.4h3v3.6h-3zM707.0 178.8h3v26.1h-3zM716.0 148.7h3v27.8h-3zM721.0 136.2h3v11.5h-3zM725.0 77.2h3v38.6h-3zM734.0 110.2h3v10.4h-3zM743.0 105.7h3v2.9h-3zM752.0 128.3h3v6.4h-3zM757.0 115.0h3v17.6h-3zM762.0 87.0h3v22.2h-3zM771.0 119.8h3v16.8h-3zM784.0 263.5h3v11.8h-3zM789.0 247.0h3v15.0h-3zM798.0 290.9h3v28.8h-3zM802.0 276.3h3v26.9h-3zM825.0 309.5h3v40.3h-3zM834.0 306.9h3v5.6h-3zM843.0 306.9h3v74.2h-3zM861.0 350.8h3v58.8h-3zM879.0 446.2h3v5.6h-3zM888.0 442.2h3v33.6h-3zM897.0 385.8h3v50.1h-3zM902.0 315.4h3v8.6h-3zM906.0 255.0h3v3.0h-3zM920.0 289.6h3v28.3h-3zM924.0 288.3h3v13.6h-3zM933.0 302.4h3v27.4h-3zM952.0 361.4h3v4.3h-3zM961.0 392.0h3v18.9h-3zM979.0 389.5h3v6.5h-3zM983.0 393.0h3v9.6h-3zM988.0 389.5h3v17.1h-3zM997.0 386.4h3v43.6h-3zM1006.0 373.1h3v33.5h-3zM1010.0 355.8h3v17.6h-3zM1024.0 375.7h3v1.7h-3zM1028.0 349.1h3v24.3h-3zM1033.0 325.4h3v20.3h-3zM1037.0 319.0h3v2.2h-3zM1042.0 303.1h3v15.4h-3zM1047.0 285.5h3v15.8h-3zM1051.0 294.3h3v5.6h-3zM1074.0 324.1h3v26.4h-3zM1083.0 299.6h3v34.4h-3zM1115.0 332.8h3v3.0h-3zM1137.0 350.1h3v16.3h-3zM1142.0 351.5h3v3.7h-3zM1146.0 342.1h3v8.4h-3zM1151.0 304.1h3v37.0h-3zM1164.0 310.2h3v16.3h-3zM1173.0 262.4h3v42.3h-3zM1178.0 251.7h3v9.1h-3zM1182.0 256.2h3v4.6h-3z" fill="#fff" stroke="#000" stroke-width="1" shape-rendering="crispEdges"/>
<path d="M13.0 503.9C13.7 506.1 15.5 513.2 17.0 517.2C18.5 521.2 20.2 524.1 21.8 527.9C23.4 531.7 24.8 536.0 26.3 539.8C27.8 543.6 29.4 547.4 30.8 550.5C32.2 553.6 33.3 556.1 34.8 558.5C36.3 560.9 38.1 561.3 39.6 565.1C41.1 568.9 42.3 575.8 43.8 581.1C45.3 586.4 46.8 592.6 48.4 597.0C50.0 601.4 51.5 605.0 53.1 607.7C54.7 610.4 56.4 611.7 57.9 613.0C59.4 614.3 60.4 614.9 61.9 615.6C63.4 616.3 64.7 616.6 67.0 617.0C69.3 617.4 73.3 617.7 75.5 617.8C77.7 617.9 78.5 617.3 80.0 617.8C81.5 618.3 83.0 619.8 84.5 621.0C86.0 622.2 87.5 624.1 89.0 624.9C90.5 625.7 92.1 625.9 93.6 625.7C95.1 625.5 96.5 624.5 98.1 623.6C99.6 622.7 101.4 621.3 102.9 620.4C104.5 619.5 105.9 619.1 107.4 618.3C108.9 617.5 110.4 616.1 111.9 615.6C113.4 615.1 114.9 614.9 116.4 615.1C117.9 615.3 119.5 616.0 121.0 617.0C122.5 618.0 124.0 619.9 125.5 621.0C127.0 622.1 128.4 622.8 130.0 623.6C131.6 624.4 133.3 624.9 134.8 625.7C136.3 626.5 137.4 627.5 138.8 628.4C140.2 629.3 141.8 629.7 143.3 631.1C144.8 632.5 146.2 635.0 147.8 636.9C149.4 638.8 151.1 640.4 152.6 642.2C154.1 644.0 155.6 645.6 157.1 647.6C158.6 649.6 160.2 652.2 161.6 654.2C163.0 656.2 164.0 658.2 165.6 659.5C167.2 660.8 169.5 661.5 171.2 662.2C172.8 662.9 174.1 662.6 175.5 663.5C176.9 664.4 178.2 666.4 179.7 667.5C181.2 668.6 182.8 670.0 184.3 670.2C185.8 670.4 187.3 671.7 188.8 668.8C190.3 665.9 191.8 657.8 193.3 652.9C194.9 648.0 196.6 644.0 198.1 639.6C199.6 635.2 201.1 630.3 202.6 626.3C204.1 622.3 205.5 618.4 207.0 615.5C208.5 612.6 210.2 610.4 211.8 608.9C213.4 607.4 214.8 606.7 216.3 606.2C217.9 605.8 219.6 606.0 221.1 606.2C222.6 606.4 223.7 606.9 225.1 607.6C226.5 608.3 228.1 608.7 229.6 610.2C231.1 611.8 232.6 614.9 234.1 616.9C235.6 618.9 237.1 620.9 238.6 622.2C240.1 623.5 241.6 623.7 243.1 624.8C244.6 625.9 246.2 627.7 247.7 628.8C249.2 629.9 250.3 630.4 251.9 631.5C253.5 632.6 255.5 635.1 257.0 635.5C258.5 635.9 259.5 635.1 261.0 633.6C262.5 632.1 264.5 628.6 266.0 626.2C267.5 623.9 268.6 621.7 270.0 619.5C271.4 617.3 273.0 615.3 274.5 612.9C276.0 610.5 277.5 607.6 279.0 604.9C280.5 602.2 282.1 598.2 283.6 596.9C285.1 595.6 286.6 596.0 288.1 596.9C289.7 597.8 291.3 600.0 292.9 602.2C294.5 604.4 296.4 608.5 297.9 610.2C299.4 611.9 300.4 612.1 301.9 612.3C303.4 612.5 305.2 612.1 306.7 611.5C308.2 610.9 309.5 610.0 311.0 608.9C312.5 607.8 314.0 606.3 315.5 604.9C317.0 603.5 318.5 601.3 320.0 600.4C321.5 599.5 323.0 598.9 324.5 599.6C326.0 600.3 327.5 604.0 329.0 604.4C330.5 604.8 332.1 603.9 333.6 602.2C335.1 600.5 336.6 596.7 338.1 594.3C339.7 591.9 341.4 590.3 342.9 587.6C344.4 584.9 345.6 582.1 347.1 578.3C348.6 574.5 350.5 569.0 351.9 565.0C353.3 561.0 354.1 557.7 355.6 554.4C357.1 551.1 359.1 549.1 360.7 545.1C362.3 541.1 363.7 534.0 365.2 530.4C366.7 526.8 368.2 527.6 369.7 523.8C371.2 520.0 372.8 511.4 374.3 507.8C375.8 504.2 377.3 502.3 378.8 502.5C380.3 502.7 381.8 506.2 383.3 509.1C384.9 512.0 386.5 516.9 388.1 519.8C389.7 522.7 391.6 525.1 393.1 526.4C394.6 527.7 395.6 528.0 397.0 527.5C398.4 527.0 400.2 527.0 401.8 523.5C403.4 520.0 404.8 512.4 406.3 506.2C407.8 500.0 409.3 491.8 410.8 486.3C412.3 480.8 413.6 475.9 415.1 473.0C416.6 470.1 418.1 469.4 419.6 469.0C421.1 468.6 422.5 467.9 424.1 470.3C425.7 472.7 427.6 480.1 429.1 483.6C430.6 487.2 431.7 488.1 433.1 491.6C434.5 495.2 436.3 501.3 437.7 504.9C439.1 508.4 440.1 510.9 441.6 512.9C443.1 514.9 445.1 516.5 446.7 516.9C448.3 517.3 449.4 517.0 451.0 515.5C452.6 514.0 454.5 509.8 456.0 507.6C457.5 505.4 458.6 503.6 460.0 502.2C461.4 500.8 463.0 500.3 464.5 499.0C466.0 497.7 467.4 496.7 469.0 494.3C470.6 491.9 472.6 488.9 474.1 484.9C475.6 480.9 476.6 474.9 478.1 470.3C479.6 465.7 481.3 461.2 482.9 457.0C484.5 452.8 486.4 450.9 487.9 445.1C489.4 439.3 490.5 428.3 491.9 422.4C493.3 416.5 494.9 411.7 496.4 409.7C497.9 407.7 499.4 409.9 501.0 410.5C502.6 411.1 504.8 412.4 506.3 413.1C507.8 413.9 508.6 414.6 510.0 415.0C511.4 415.4 513.3 415.6 514.8 415.3C516.3 415.0 517.5 415.0 519.0 413.1C520.5 411.2 522.1 406.7 523.6 403.8C525.1 400.9 526.6 399.0 528.1 395.9C529.6 392.8 531.4 387.8 532.9 385.2C534.4 382.6 535.6 380.9 537.1 380.4C538.6 379.9 540.4 381.4 541.9 382.0C543.4 382.6 544.7 382.0 546.2 383.9C547.8 385.8 550.0 389.0 551.2 393.2C552.4 397.4 552.7 403.3 553.4 409.1C554.1 414.9 554.2 421.6 555.2 427.8C556.2 434.0 558.2 442.6 559.7 446.4C561.2 450.2 562.8 450.0 564.3 450.4C565.8 450.8 567.3 451.0 568.8 449.0C570.3 447.0 571.8 443.3 573.3 438.4C574.8 433.5 576.5 423.6 578.1 419.8C579.7 416.0 580.8 417.0 583.1 415.8C585.4 414.6 589.6 414.6 591.8 412.8C594.0 411.0 594.8 407.9 596.3 404.8C597.8 401.7 599.3 397.2 600.8 394.1C602.3 391.0 603.6 388.9 605.1 386.2C606.6 383.5 608.1 382.6 609.6 378.2C611.1 373.8 612.6 365.2 614.1 359.6C615.6 354.1 617.1 349.8 618.6 344.9C620.1 340.0 621.6 335.2 623.1 330.3C624.6 325.4 626.2 320.1 627.7 315.7C629.2 311.3 630.4 307.9 631.9 303.7C633.4 299.5 635.5 293.4 637.0 290.4C638.5 287.4 639.6 286.9 641.0 285.6C642.4 284.3 644.0 283.4 645.5 282.4C647.0 281.4 648.5 280.7 650.0 279.8C651.5 278.9 653.0 278.4 654.5 277.1C656.0 275.8 657.5 273.4 659.0 271.8C660.5 270.2 662.1 268.5 663.6 267.8C665.1 267.1 666.6 267.7 668.1 267.8C669.6 267.9 671.3 267.7 672.9 268.6C674.5 269.5 676.4 271.8 677.9 273.1C679.4 274.4 680.5 275.8 681.9 276.6C683.3 277.4 684.9 277.8 686.4 277.9C687.9 278.0 689.4 278.1 691.0 277.1C692.6 276.1 694.8 274.7 696.3 271.8C697.8 268.9 698.6 263.8 700.0 259.8C701.4 255.8 703.3 254.0 704.8 247.9C706.3 241.8 707.6 231.1 709.1 223.5C710.6 215.9 712.4 209.1 713.9 202.2C715.4 195.3 716.4 189.8 717.9 182.3C719.4 174.8 721.2 163.9 722.7 157.0C724.2 150.1 725.2 146.6 726.7 141.1C728.2 135.6 730.3 128.7 731.8 123.8C733.3 118.9 734.2 114.7 735.7 111.8C737.2 108.9 738.9 107.8 740.5 106.5C742.1 105.2 743.6 102.9 745.1 103.8C746.6 104.7 748.3 109.6 749.8 111.8C751.2 114.0 752.3 116.5 753.8 117.1C755.3 117.7 756.9 116.0 758.6 115.3C760.3 114.6 762.4 113.6 763.9 113.1C765.4 112.6 766.2 112.2 767.7 112.3C769.2 112.4 771.5 112.7 772.7 113.9C773.9 115.2 774.4 117.0 775.1 119.8C775.8 122.5 775.7 123.3 776.7 130.4C777.7 137.5 779.7 152.1 781.2 162.3C782.7 172.5 784.2 181.8 785.7 191.6C787.2 201.4 789.3 213.2 790.5 221.3C791.7 229.4 792.2 235.0 792.9 239.9C793.6 244.8 793.9 246.7 794.8 250.5C795.7 254.3 796.7 259.6 798.2 262.5C799.8 265.4 802.4 266.2 804.1 267.8C805.8 269.4 807.1 268.9 808.6 271.8C810.1 274.7 811.6 280.7 813.1 285.1C814.6 289.5 816.2 295.1 817.7 298.4C819.2 301.7 820.4 303.3 821.9 305.1C823.4 306.9 825.5 307.2 827.0 309.0C828.5 310.8 829.5 314.4 831.0 315.7C832.5 317.0 834.5 317.0 836.0 317.0C837.5 317.0 838.6 317.0 840.0 315.7C841.4 314.4 843.0 310.3 844.5 309.0C846.0 307.7 847.5 307.2 849.0 307.7C850.5 308.1 852.0 310.1 853.6 311.7C855.2 313.2 857.1 313.4 858.6 317.0C860.1 320.6 861.4 328.2 862.9 333.0C864.4 337.8 866.4 339.9 867.9 346.0C869.4 352.1 870.4 361.5 871.9 369.9C873.4 378.3 875.2 389.0 876.7 396.5C878.2 404.0 879.5 408.9 881.0 415.1C882.5 421.3 884.0 429.3 885.5 433.7C887.0 438.1 888.5 440.1 890.0 441.7C891.5 443.2 893.3 444.3 894.8 443.0C896.3 441.7 897.5 440.5 899.0 433.7C900.5 426.9 902.1 415.3 903.6 402.1C905.1 388.9 906.6 368.5 908.1 354.3C909.6 340.1 911.4 326.5 912.9 317.0C914.4 307.5 915.6 302.9 917.1 297.1C918.6 291.3 920.4 285.4 921.6 282.4C922.9 279.4 923.4 278.9 924.6 279.3C925.8 279.8 927.3 281.9 928.6 285.1C929.9 288.3 931.5 295.5 932.6 298.4C933.7 301.3 934.0 301.5 935.2 302.4C936.4 303.3 938.2 303.0 939.7 303.7C941.2 304.4 942.8 303.7 944.3 306.4C945.8 309.1 947.2 315.7 948.8 319.7C950.4 323.7 952.2 325.4 953.8 330.3C955.3 335.2 956.5 343.1 958.1 348.9C959.7 354.7 961.5 360.1 963.1 364.9C964.7 369.7 966.2 375.1 967.7 377.9C969.2 380.7 970.8 380.8 972.2 381.9C973.7 383.0 974.9 383.8 976.4 384.5C977.9 385.2 979.5 385.7 981.0 385.9C982.5 386.1 983.8 385.2 985.2 385.9C986.7 386.5 988.2 388.0 989.7 389.8C991.2 391.6 992.8 395.4 994.3 396.5C995.8 397.6 997.5 396.9 999.0 396.5C1000.5 396.1 1001.8 394.9 1003.3 393.8C1004.8 392.7 1006.6 392.0 1008.1 389.8C1009.6 387.6 1010.8 383.8 1012.3 380.5C1013.8 377.2 1015.4 372.5 1016.9 369.9C1018.4 367.2 1020.0 365.5 1021.4 364.6C1022.8 363.7 1024.1 365.1 1025.6 364.6C1027.1 364.2 1028.7 363.1 1030.2 361.9C1031.8 360.7 1033.4 360.3 1034.9 357.6C1036.4 354.9 1037.6 350.0 1039.1 345.6C1040.6 341.2 1042.3 335.9 1043.9 331.0C1045.5 326.1 1047.0 320.6 1048.5 316.4C1050.0 312.2 1051.5 307.2 1053.0 305.7C1054.5 304.1 1056.2 306.2 1057.8 307.1C1059.3 308.0 1060.8 309.8 1062.3 311.1C1063.8 312.4 1065.6 314.0 1067.1 315.1C1068.6 316.2 1069.7 316.1 1071.1 317.7C1072.5 319.2 1074.1 323.1 1075.6 324.4C1077.1 325.7 1078.5 326.1 1080.1 325.7C1081.6 325.2 1083.4 323.2 1084.9 321.7C1086.4 320.1 1087.6 317.9 1089.1 316.4C1090.6 314.8 1092.3 313.4 1093.9 312.4C1095.5 311.4 1097.0 310.5 1098.5 310.5C1100.0 310.5 1101.5 310.8 1103.0 312.4C1104.5 314.0 1106.0 318.2 1107.5 320.4C1109.0 322.6 1110.5 323.9 1112.0 325.7C1113.5 327.5 1115.0 329.4 1116.5 331.0C1118.0 332.6 1119.6 333.0 1121.1 335.0C1122.6 337.0 1124.1 341.1 1125.6 343.0C1127.1 344.9 1128.6 345.5 1130.1 346.4C1131.6 347.3 1133.1 348.0 1134.6 348.3C1136.1 348.6 1137.5 348.4 1139.1 348.3C1140.6 348.2 1142.4 348.2 1143.9 347.8C1145.4 347.4 1146.7 347.7 1148.2 345.6C1149.7 343.5 1151.2 338.5 1152.7 335.0C1154.2 331.5 1155.7 327.1 1157.2 324.4C1158.7 321.7 1160.3 320.6 1161.8 319.0C1163.3 317.4 1164.8 316.7 1166.3 315.1C1167.8 313.6 1169.3 312.1 1170.8 309.7C1172.3 307.2 1173.6 304.6 1175.1 300.4C1176.6 296.2 1178.1 288.9 1179.6 284.5C1181.1 280.1 1182.6 276.7 1184.1 273.8C1185.6 270.9 1187.8 268.3 1188.6 267.2" fill="none" stroke="#000" stroke-width="1.9" stroke-linejoin="round" shape-rendering="crispEdges"/>
<g fill="none" stroke="#f00" stroke-width="1" stroke-dasharray="3,3">
<rect x="220.5" y="605.5" width="144.5" height="42"/>
<path d="M885 255.5H1405"/>
</g>
<g fill="none" stroke="#f00" stroke-width="1" stroke-dasharray="2.5,3">
<path d="M877 511L1238.5 328.5"/>
<path d="M1188.7 265.8L1228.5 326"/>
<path d="M1224 327.5L1266 283"/>
<path d="M1269.5 283.5L1364.3 548.2"/>
</g>
</g>
<g font-size="18" fill="#f00">
<text x="152" y="715">pb</text>
<text x="903" y="246">a</text>
<text x="993" y="454">b</text>
<text x="1170" y="233">c</text>
<text x="1228" y="356">d</text>
<text x="1278" y="281">e</text>
</g>
<g font-size="18" fill="#00f">
<text x="862" y="553">1</text>
<text x="1170" y="199">2</text>
</g>
<g stroke="#000" stroke-width="1.2" fill="none">
<path d="M1419.5 3V820"/>
<path d="M7 798.5H1419.5"/>
<path d="M1419.5 746.5h4.5"/>
<path d="M1419.5 695.5h4.5"/>
<path d="M1419.5 646.5h4.5"/>
<path d="M1419.5 599.5h4.5"/>
<path d="M1419.5 554.5h4.5"/>
<path d="M1419.5 511.5h4.5"/>
<path d="M1419.5 470.5h4.5"/>
<path d="M1419.5 430.5h4.5"/>
<path d="M1419.5 392.5h4.5"/>
<path d="M1419.5 355.5h4.5"/>
<path d="M1419.5 319.5h4.5"/>
<path d="M1419.5 285.5h4.5"/>
<path d="M1419.5 251.5h4.5"/>
<path d="M1419.5 219.5h4.5"/>
<path d="M1419.5 187.5h4.5"/>
<path d="M1419.5 157.5h4.5"/>
<path d="M1419.5 127.5h4.5"/>
<path d="M1419.5 98.5h4.5"/>
<path d="M1419.5 70.5h4.5"/>
<path d="M1419.5 43.5h4.5"/>
<path d="M1419.5 16.5h4.5"/>
<path d="M66.5 798.5v5.5"/>
<path d="M156.5 798.5v5.5"/>
<path d="M256.5 798.5v5.5"/>
<path d="M355.5 798.5v5.5"/>
<path d="M450.5 798.5v5.5"/>
<path d="M541.5 798.5v5.5"/>
<path d="M609.5 798.5v5.5"/>
<path d="M708.5 798.5v5.5"/>
<path d="M794.5 798.5v5.5"/>
<path d="M894.5 798.5v5.5"/>
<path d="M989.5 798.5v5.5"/>
<path d="M1088.5 798.5v5.5"/>
</g>
<g font-size="18" fill="#000" stroke="#000" stroke-width="0.3" text-anchor="end">
<text x="1500" y="753.0">20</text>
<text x="1500" y="702.0">21</text>
<text x="1500" y="653.0">22</text>
<text x="1500" y="606.0">23</text>
<text x="1500" y="561.0">24</text>
<text x="1500" y="518.0">25</text>
<text x="1500" y="477.0">26</text>
<text x="1500" y="437.0">27</text>
<text x="1500" y="399.0">28</text>
<text x="1500" y="362.0">29</text>
<text x="1500" y="326.0">30</text>
<text x="1500" y="292.0">31</text>
<text x="1500" y="258.0">32</text>
<text x="1500" y="226.0">33</text>
<text x="1500" y="194.0">34</text>
<text x="1500" y="164.0">35</text>
<text x="1500" y="134.0">36</text>
<text x="1500" y="105.0">37</text>
<text x="1500" y="77.0">38</text>
<text x="1500" y="50.0">39</text>
<text x="1500" y="23.0">40</text>
</g>
<g font-size="18" fill="#000" stroke="#000" stroke-width="0.3">
<text x="69.5" y="814.7">Sep</text>
<text x="159.5" y="814.7">Oct</text>
<text x="259.5" y="814.7">Nov</text>
<text x="358.5" y="814.7">Dec</text>
<text x="453.0" y="814.7" font-weight="bold">2018</text>
<text x="544.5" y="814.7">Feb</text>
<text x="612.5" y="814.7">Mar</text>
<text x="711.5" y="814.7">Apr</text>
<text x="797.5" y="814.7">May</text>
<text x="897.5" y="814.7">Jun</text>
<text x="992.5" y="814.7">Jul</text>
<text x="1091.5" y="814.7">Aug</text>
</g>
<defs><clipPath id="tc"><rect x="0" y="0" width="1416" height="26"/></clipPath></defs>
<g clip-path="url(#tc)"><text x="13.7" y="20.2" font-size="18" fill="#000" stroke="#000" stroke-width="0.3" letter-spacing="-0.014" xml:space="preserve">NLG - Daily 7/16/2018 Open 29.3, Hi 29.9, Lo 28.9, Close 29.8 (2.1%) <tspan fill="#f00" stroke="#f00">MA(Close,20)</tspan> = 28.40, <tspan fill="#00f" stroke="#00f">MA1(Close,50)</tspan> = 29.02, <tspan fill="#0f0" stroke="#0f0">MA2(Close,100)</tspan> = 30.75, <tspan fill="#ffd700" stroke="#ffd700">MA3(Close,200)</tspan> = 27.60, MA4(Close,5) = 29.47</text></g>
<path d="M1420 268.3L1430.5 258H1477V279.3H1430.5Z" fill="#000"/>
<text x="1436" y="275" font-size="18" fill="#fff">31.5</text>
<rect x="1430" y="279.3" width="57" height="20.69999999999999" fill="#000"/>
<text x="1436" y="296" font-size="18" fill="#fff">31.48</text>
<rect x="1430" y="302.2" width="74" height="20.80000000000001" fill="#00ff00"/>
<text x="1436" y="318.5" font-size="18" fill="#000">30.2084</text>
<rect x="1430" y="323" width="67" height="21" fill="#ff0000"/>
<text x="1436" y="339.5" font-size="18" fill="#000">30.065</text>
<rect x="1430" y="344" width="67" height="21" fill="#0000ff"/>
<text x="1436" y="360.5" font-size="18" fill="#fff">29.559</text>
<rect x="1430" y="365" width="67" height="20.69999999999999" fill="#ffd700"/>
<text x="1436" y="381.7" font-size="18" fill="#000">28.925</text>
<rect x="6" y="820.5" width="1499" height="7" fill="#f0f0f0"/>
<rect x="1348" y="820.5" width="130" height="7" fill="#cdcdcd"/>
<path d="M107.3 820H208L204 827.5H111Z" fill="#fff"/>
<g stroke="#9b9b9b" stroke-width="1" fill="none">
<path d="M6.5 820.5H107.3L111 827.5"/>
<path d="M204 827.5L208 820.5H790L786.2 827.5"/>
<path d="M31.5 820.5V827.5"/>
<path d="M56.5 820.5V827.5"/>
<path d="M81.5 820.5V827.5"/>
<path d="M278 820.5l3.8 7"/>
<path d="M361.6 820.5l3.8 7"/>
<path d="M443.7 820.5l3.8 7"/>
<path d="M527 820.5l3.8 7"/>
<path d="M610.6 820.5l3.8 7"/>
<path d="M694 820.5l3.8 7"/>
<path d="M815.5 820.5V827.5"/>
<path d="M841.5 820.5V827.5"/>
<path d="M867.5 820.5V827.5"/>
</g>
<text x="128" y="836" font-size="15.5" font-weight="bold" fill="#000">Sheet 1</text>
<g font-size="15.5" fill="#222">
<text x="214.1" y="836">Sheet 2</text>
<text x="297.5" y="836">Sheet 3</text>
<text x="381.0" y="836">Sheet 4</text>
<text x="464.5" y="836">Sheet 5</text>
<text x="546.5" y="836">Sheet 6</text>
<text x="630.0" y="836">Sheet 7</text>
<text x="713.5" y="836">Sheet 8</text>
</g>
<rect x="0" y="0" width="6" height="827" fill="#2d3c5c"/>
<rect x="0" y="0" width="1" height="827" fill="#8a93a6"/>
<rect x="5.6" y="3" width="1" height="824" fill="#ffe9a8"/>
<rect x="6" y="1" width="1499" height="1" fill="#ffe39a"/>
<rect x="6" y="2" width="1499" height="1" fill="#ffe8a8"/>
<rect x="0" y="0" width="1510" height="1" fill="#2d3c5c"/>
<rect x="237" y="0" width="143" height="1.2" fill="#ffe39a"/>
<rect x="1505" y="0" width="5" height="827" fill="#2d3c5c"/>
<rect x="1504" y="3" width="1" height="824" fill="#ffe9a8"/>
</svg>
</body></html>
